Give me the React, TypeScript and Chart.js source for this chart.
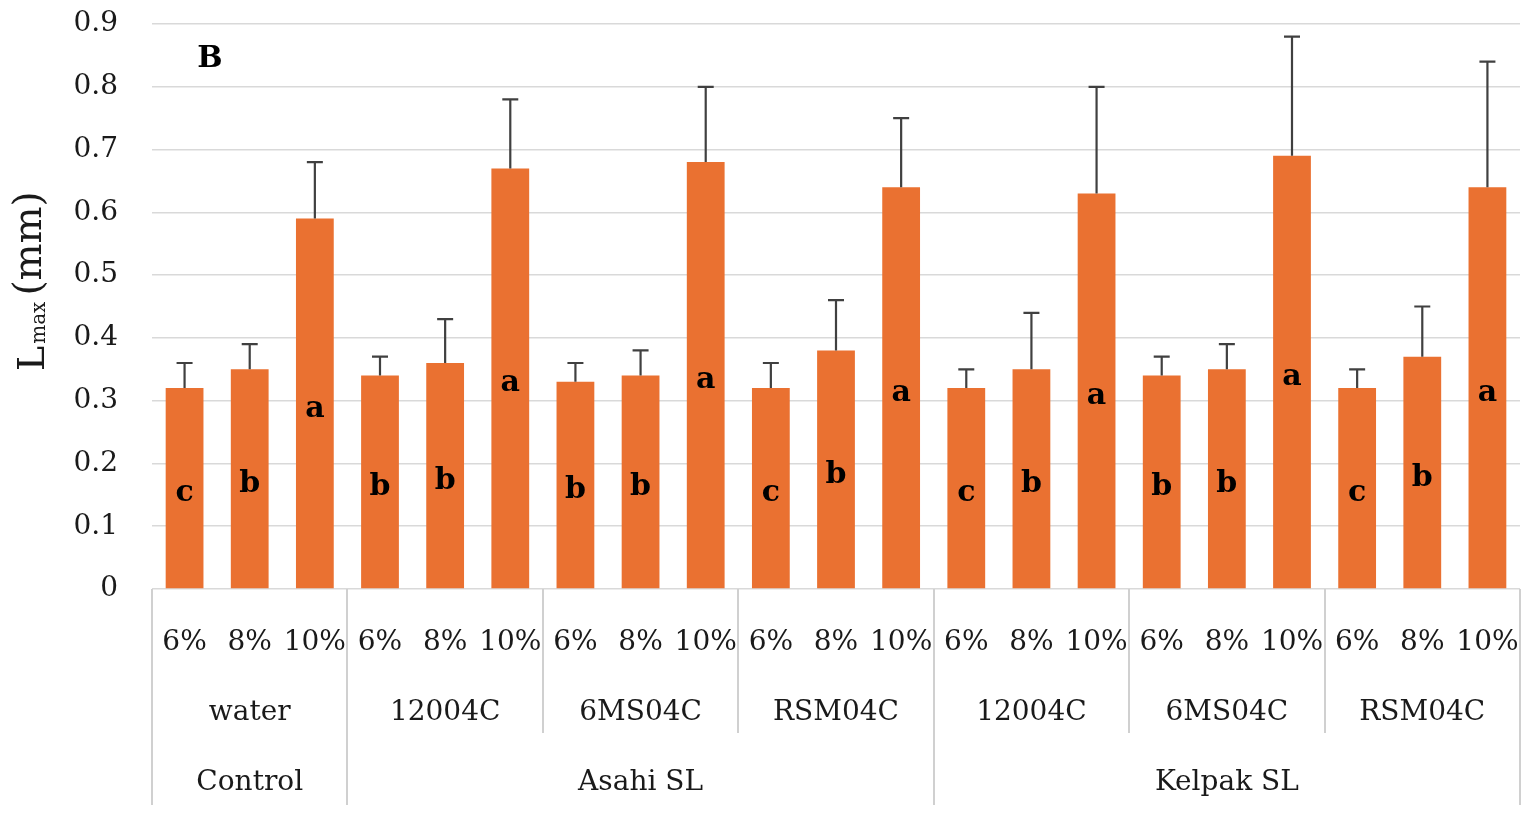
import React, { useEffect, useRef } from "react";
import { Chart, registerables } from "chart.js";

Chart.register(...registerables);

// ---- data ----
const doses = ["6%", "8%", "10%"];
const subgroups = ["water", "12004C", "6MS04C", "RSM04C", "12004C", "6MS04C", "RSM04C"];
const groupNames = ["Control", "Asahi SL", "Kelpak SL"];
const groupSpans = [1, 3, 3]; // number of subgroups in each group
const means = [
  0.32, 0.35, 0.59,
  0.34, 0.36, 0.67,
  0.33, 0.34, 0.68,
  0.32, 0.38, 0.64,
  0.32, 0.35, 0.63,
  0.34, 0.35, 0.69,
  0.32, 0.37, 0.64,
];
const errors = [
  0.04, 0.04, 0.09,
  0.03, 0.07, 0.11,
  0.03, 0.04, 0.12,
  0.04, 0.08, 0.11,
  0.03, 0.09, 0.17,
  0.03, 0.04, 0.19,
  0.03, 0.08, 0.20,
];
const letters = [
  "c", "b", "a",
  "b", "b", "a",
  "b", "b", "a",
  "c", "b", "a",
  "c", "b", "a",
  "b", "b", "a",
  "c", "b", "a",
];
const yTicks = [0, 0.1, 0.2, 0.3, 0.4, 0.5, 0.6, 0.7, 0.8, 0.9];
const panelLabel = "B";

const FONT = '"DejaVu Serif", serif';
const TEXT = "#1a1a1a";
const LINE = "#d0d0d0";

const labels: string[] = [];
subgroups.forEach(() => doses.forEach((d) => labels.push(d)));

const customPlugin = {
  id: "custom",
  afterDatasetsDraw(chart: any) {
    const { ctx, scales } = chart;
    const y = scales.y;
    const meta = chart.getDatasetMeta(0);
    const y0 = y.getPixelForValue(0);
    ctx.save();
    // error bars
    ctx.strokeStyle = "#404040";
    ctx.lineWidth = 2.2;
    meta.data.forEach((bar: any, i: number) => {
      const xc = bar.x;
      const yTop = y.getPixelForValue(means[i]);
      const yErr = y.getPixelForValue(means[i] + errors[i]);
      ctx.beginPath();
      ctx.moveTo(xc, yTop);
      ctx.lineTo(xc, yErr);
      ctx.moveTo(xc - 8, yErr);
      ctx.lineTo(xc + 8, yErr);
      ctx.stroke();
    });
    // letters
    ctx.fillStyle = "#000";
    ctx.font = `bold 30px ${FONT}`;
    ctx.textAlign = "center";
    ctx.textBaseline = "middle";
    meta.data.forEach((bar: any, i: number) => {
      const yTop = y.getPixelForValue(means[i]);
      ctx.fillText(letters[i], bar.x, (yTop + y0) / 2 + 5);
    });
    ctx.restore();
  },
  afterDraw(chart: any) {
    const { ctx, scales } = chart;
    const x = scales.x;
    const y = scales.y;
    const half = (x.getPixelForValue(1) - x.getPixelForValue(0)) / 2;
    const edge = (i: number) => (i >= labels.length ? x.right : x.getPixelForValue(i) - half);
    const top = y.getPixelForValue(0);
    ctx.save();
    // separators
    const majors: number[] = [0];
    let acc = 0;
    groupSpans.forEach((s) => {
      acc += s * doses.length;
      majors.push(acc);
    });
    ctx.strokeStyle = LINE;
    ctx.lineWidth = 2;
    for (let s = 0; s <= subgroups.length; s++) {
      const idx = s * doses.length;
      const px = Math.round(edge(idx));
      const isMajor = majors.includes(idx);
      ctx.beginPath();
      ctx.moveTo(px, top);
      ctx.lineTo(px, isMajor ? 805 : 733);
      ctx.stroke();
    }
    // subgroup labels
    ctx.fillStyle = TEXT;
    ctx.font = `28px ${FONT}`;
    ctx.textAlign = "center";
    ctx.textBaseline = "middle";
    subgroups.forEach((name, s) => {
      const cx = (edge(s * doses.length) + edge((s + 1) * doses.length)) / 2;
      ctx.fillText(name, cx, 713);
    });
    // group labels
    let startSub = 0;
    groupNames.forEach((name, g) => {
      const a = edge(startSub * doses.length);
      const b = edge((startSub + groupSpans[g]) * doses.length);
      ctx.fillText(name, (a + b) / 2, 783);
      startSub += groupSpans[g];
    });
    // panel label
    ctx.fillStyle = "#000";
    ctx.font = `bold 30px ${FONT}`;
    ctx.fillText(panelLabel, 210, 59);
    // y title: L_max (mm)
    ctx.rotate(-Math.PI / 2);
    ctx.textAlign = "left";
    ctx.textBaseline = "alphabetic";
    ctx.fillStyle = TEXT;
    let rx = -371;
    ctx.font = `38px ${FONT}`;
    ctx.fillText("L", rx, 44);
    rx += ctx.measureText("L").width + 2;
    ctx.font = `20px ${FONT}`;
    ctx.fillText("max", rx, 45);
    rx += ctx.measureText("max").width + 6;
    ctx.font = `39px ${FONT}`;
    ctx.fillText("(mm)", rx, 41);
    ctx.restore();
  },
};

export default function App() {
  const ref = useRef<HTMLCanvasElement | null>(null);
  useEffect(() => {
    document.body.style.margin = "0";
    if (!ref.current) return;
    const chart = new Chart(ref.current, {
      type: "bar",
      data: {
        labels,
        datasets: [
          {
            data: means,
            backgroundColor: "#EA7131",
            borderWidth: 0,
            categoryPercentage: 1,
            barPercentage: 0.58,
          },
        ],
      },
      options: {
        animation: false,
        responsive: true,
        maintainAspectRatio: false,
        layout: { padding: { left: 0, right: 14, top: 24, bottom: 0 } },
        plugins: { legend: { display: false }, tooltip: { enabled: false } },
        scales: {
          x: {
            grid: { display: false },
            border: { display: false },
            ticks: {
              font: { family: FONT, size: 28 },
              color: TEXT,
              padding: 29,
              maxRotation: 0,
              minRotation: 0,
              autoSkip: false,
            },
            afterFit(scale: any) {
              scale.height = 225;
              scale.paddingLeft = 0;
              scale.paddingRight = 0;
            },
          },
          y: {
            min: 0,
            max: 0.9,
            afterBuildTicks(scale: any) {
              scale.ticks = yTicks.map((v) => ({ value: v }));
            },
            grid: { color: "#d9d9d9", lineWidth: 1.5, drawTicks: false },
            border: { display: false },
            ticks: {
              font: { family: FONT, size: 28 },
              color: TEXT,
              padding: 34,
              callback: (v: any) => String(Math.round(Number(v) * 10) / 10),
            },
            afterFit(scale: any) {
              scale.width = 152;
              scale.paddingTop = 0;
              scale.paddingBottom = 0;
            },
          },
        },
      },
      plugins: [customPlugin],
    });
    return () => chart.destroy();
  }, []);
  return (
    <div style={{ width: 1534, height: 814, position: "relative", background: "#fff" }}>
      <canvas ref={ref} />
    </div>
  );
}
